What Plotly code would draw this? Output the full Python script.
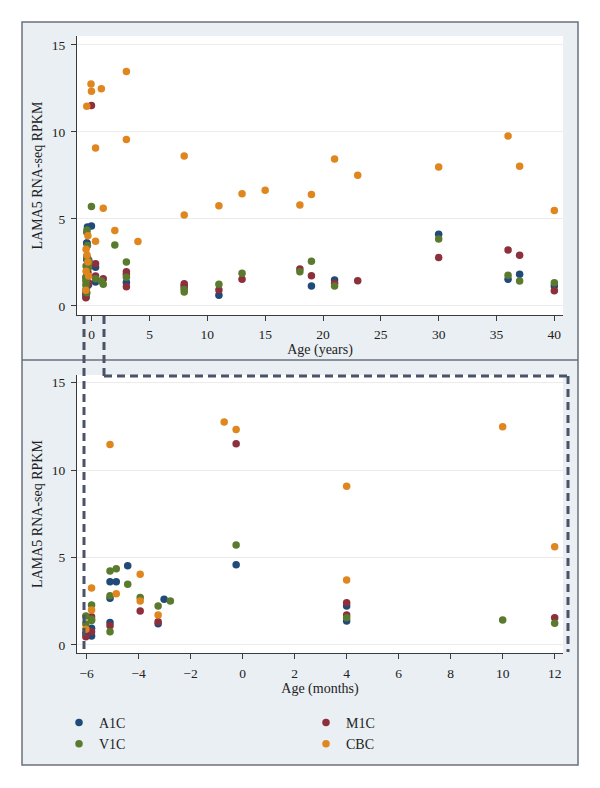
import plotly.graph_objects as go

W, H = 600, 788

# ---------------- data ----------------
# Prenatal / infant samples: age in months (shown in both panels)
a1c_inf_months = [-6.03, -5.81, -5.81, -5.1, -5.1, -5.1, -4.86, -4.42, -3.25, -3.02, -0.25, 4, 4]
a1c_inf_rpkm   = [0.67, 0.95, 0.51, 3.62, 2.67, 1.28, 3.62, 4.53, 1.22, 2.61, 4.59, 2.23, 1.37]

m1c_inf_months = [-6.03, -5.81, -5.81, -5.1, -3.94, -3.25, -0.25, 4, 4, 12]
m1c_inf_rpkm   = [0.47, 1.62, 0.76, 1.10, 1.94, 1.33, 11.51, 2.42, 1.72, 1.56]

v1c_inf_months = [-6.03, -6.03, -5.81, -5.81, -5.81, -5.1, -5.1, -5.1, -4.86, -4.42, -3.94, -3.25, -2.78, -0.25, 4, 10, 12]
v1c_inf_rpkm   = [1.66, 1.20, 2.29, 1.47, 1.40, 4.23, 2.82, 0.76, 4.36, 3.47, 2.71, 2.23, 2.52, 5.72, 1.56, 1.43, 1.24]

cbc_inf_months = [-6.03, -5.81, -5.81, -5.1, -4.86, -3.94, -3.94, -3.25, -0.71, -0.25, 4, 4, 10, 12]
cbc_inf_rpkm   = [0.90, 3.26, 2.00, 11.47, 2.93, 4.04, 2.52, 1.72, 12.75, 12.33, 3.72, 9.08, 12.48, 5.62]

# Older samples: age in years (top panel only)
a1c_years = [3, 8, 11, 19, 21, 30, 36, 37, 40]
a1c_rpkm  = [1.35, 1.18, 0.61, 1.15, 1.49, 4.12, 1.53, 1.82, 1.15]

m1c_years = [3, 3, 3, 8, 8, 11, 13, 18, 19, 21, 23, 30, 36, 37, 40]
m1c_rpkm  = [1.97, 1.80, 1.10, 1.27, 1.05, 0.92, 1.53, 2.12, 1.74, 1.30, 1.45, 2.78, 3.22, 2.91, 0.88]

v1c_years = [2, 3, 3, 8, 8, 11, 13, 18, 19, 21, 30, 36, 37, 40]
v1c_rpkm  = [3.50, 2.53, 1.65, 0.95, 0.80, 1.25, 1.88, 1.97, 2.57, 1.15, 3.85, 1.76, 1.44, 1.34]

cbc_years = [2, 3, 3, 4, 8, 8, 11, 13, 15, 18, 19, 21, 23, 30, 36, 37, 40]
cbc_rpkm  = [4.33, 13.47, 9.56, 3.70, 8.62, 5.23, 5.75, 6.44, 6.65, 5.80, 6.40, 8.45, 7.51, 7.99, 9.77, 8.03, 5.48]

y_ticks = [0, 5, 10, 15]
x_ticks_years = [0, 5, 10, 15, 20, 25, 30, 35, 40]
x_ticks_months = [-6, -4, -2, 0, 2, 4, 6, 8, 10, 12]
x_ticklabels_months = ["\u22126", "\u22124", "\u22122", "0", "2", "4", "6", "8", "10", "12"]

series = [
    ("A1C", "#1f4a7a", a1c_inf_months, a1c_inf_rpkm, a1c_years, a1c_rpkm, "legend"),
    ("M1C", "#8e2f3c", m1c_inf_months, m1c_inf_rpkm, m1c_years, m1c_rpkm, "legend2"),
    ("V1C", "#5a7a2e", v1c_inf_months, v1c_inf_rpkm, v1c_years, v1c_rpkm, "legend"),
    ("CBC", "#e0861f", cbc_inf_months, cbc_inf_rpkm, cbc_years, cbc_rpkm, "legend2"),
]

FONT = "Liberation Serif"
MS = 7.5

fig = go.Figure()
for name, col, im, iv, yy, yv, lg in series:
    fig.add_trace(go.Scatter(
        x=[m / 12 for m in im] + yy, y=iv + yv, mode="markers", name=name,
        marker=dict(color=col, size=MS, line=dict(width=0)),
        xaxis="x", yaxis="y", showlegend=False, hoverinfo="skip"))
for name, col, im, iv, yy, yv, lg in series:
    fig.add_trace(go.Scatter(
        x=im, y=iv, mode="markers", name=name,
        marker=dict(color=col, size=MS, line=dict(width=0)),
        xaxis="x2", yaxis="y2", showlegend=True, legend=lg, hoverinfo="skip"))

def px(x):
    return x / W

def py(y):
    return 1 - y / H

axis_common = dict(
    showline=True, linecolor="#3a3a3a", linewidth=1,
    ticks="outside", ticklen=5, tickcolor="#3a3a3a", tickwidth=1,
    tickfont=dict(family=FONT, size=13.5, color="#222"),
    zeroline=False,
)
TITLE_FONT = dict(family=FONT, size=14, color="#222")

fig.update_layout(
    width=W, height=H,
    margin=dict(l=0, r=0, t=0, b=0),
    paper_bgcolor="white", plot_bgcolor="rgba(0,0,0,0)",
    font=dict(family=FONT, size=13, color="#222"),
    xaxis=dict(domain=[px(77), px(563)], anchor="y", range=[-1.27, 40.75],
               tickvals=x_ticks_years, showgrid=False, ticklabelstandoff=2,
               title=dict(text="Age (years)", font=TITLE_FONT, standoff=1),
               **axis_common),
    yaxis=dict(domain=[py(315), py(36)], anchor="x", range=[-0.52, 15.51],
               tickvals=y_ticks, showgrid=True, gridcolor="#ececec", gridwidth=1,
               ticklabelstandoff=3,
               title=dict(text="LAMA5 RNA-seq RPKM", font=TITLE_FONT, standoff=5),
               **axis_common),
    xaxis2=dict(domain=[px(77), px(563)], anchor="y2", range=[-6.37, 12.32],
                tickvals=x_ticks_months, ticktext=x_ticklabels_months,
                showgrid=False, ticklabelstandoff=3,
                title=dict(text="Age (months)", font=TITLE_FONT, standoff=2),
                **axis_common),
    yaxis2=dict(domain=[py(653), py(375)], anchor="x2", range=[-0.46, 15.44],
                tickvals=y_ticks, showgrid=True, gridcolor="#ececec", gridwidth=1,
                ticklabelstandoff=3,
                title=dict(text="LAMA5 RNA-seq RPKM", font=TITLE_FONT, standoff=5),
                **axis_common),
    legend=dict(x=px(59), y=py(707), xanchor="left", yanchor="top", orientation="v",
                bgcolor="rgba(0,0,0,0)", font=dict(family=FONT, size=14), tracegroupgap=0),
    legend2=dict(x=px(306), y=py(707), xanchor="left", yanchor="top", orientation="v",
                 bgcolor="rgba(0,0,0,0)", font=dict(family=FONT, size=14), tracegroupgap=0),
    hovermode=False,
)

shapes = []
# outer frame
shapes.append(dict(type="rect", xref="paper", yref="paper", x0=px(22), x1=px(578), y0=py(765), y1=py(22),
                   fillcolor="#e9eff3", line=dict(color="#6b7080", width=1.5), layer="below"))
# divider between panels
shapes.append(dict(type="line", xref="paper", yref="paper", x0=px(22), x1=px(578), y0=py(360), y1=py(360),
                   line=dict(color="#6b7080", width=1.5), layer="below"))
# white plot regions
shapes.append(dict(type="rect", xref="paper", yref="paper", x0=px(77), x1=px(563), y0=py(315), y1=py(36),
                   fillcolor="white", line=dict(width=0), layer="below"))
shapes.append(dict(type="rect", xref="paper", yref="paper", x0=px(77), x1=px(563), y0=py(653), y1=py(375),
                   fillcolor="white", line=dict(width=0), layer="below"))
# dashed zoom connector
dash_line = dict(color="#4a5368", width=3, dash="8px,5px")
for (x0, y0, x1, y1) in [(84, 316, 84, 652), (104, 316, 104, 376), (104, 376, 568, 376), (568, 376, 568, 652)]:
    shapes.append(dict(type="line", xref="paper", yref="paper", x0=px(x0), x1=px(x1), y0=py(y0), y1=py(y1),
                       line=dash_line, layer="above"))
fig.update_layout(shapes=shapes)

fig.write_html("out.html", config={"displayModeBar": False})
